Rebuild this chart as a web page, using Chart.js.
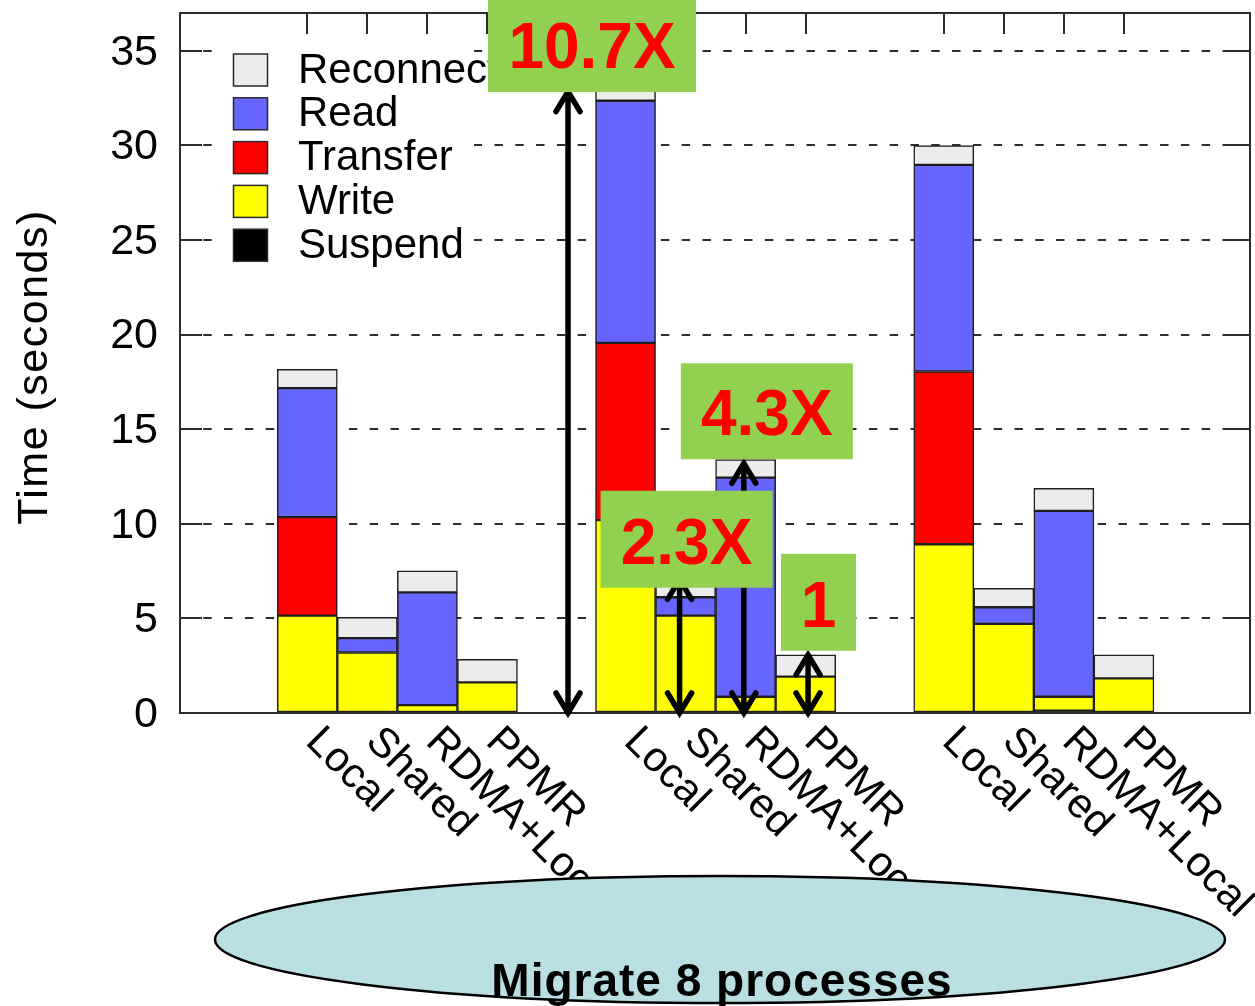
<!DOCTYPE html>
<html>
<head>
<meta charset="utf-8">
<script src="https://cdn.jsdelivr.net/npm/chart.js@4.4.1/dist/chart.umd.min.js"></script>
<style>
  html, body { margin: 0; padding: 0; background: #ffffff; overflow: hidden; }
  #wrap { width: 1255px; height: 1006px; position: relative; }
</style>
</head>
<body>
<div id="wrap"><canvas id="c" width="1255" height="1006"></canvas></div>
<script>
// Migration methods, repeated in three clusters of bars
const methods = ['Local', 'Shared', 'RDMA+Local', 'PPMR'];
const clusterCount = 3;

// Phases, stacked bottom to top
const phases = ['Suspend', 'Write', 'Transfer', 'Read', 'Reconnect'];

// Phase times in seconds, one value per bar (cluster by cluster, in method order)
const suspendTime   = [0,    0,    0,    0,      0,     0,    0,     0,      0,     0,    0.12, 0];
const writeTime     = [5.15, 3.2,  0.42, 1.62,   10.2,  5.15, 0.86,  1.92,   8.92,  4.71, 0.74, 1.83];
const transferTime  = [5.2,  0,    0,    0,      9.36,  0,    0,     0,      9.13,  0,    0,    0];
const readTime      = [6.82, 0.76, 5.96, 0,      12.8,  0.97, 11.58, 0,      10.92, 0.88, 9.82, 0];
const reconnectTime = [1.0,  1.1,  1.13, 1.22,   0.6,   1.0,  0.95,  1.15,   1.02,  1.0,  1.2,  1.24];

// Y axis tick values
const yTicks = [0, 5, 10, 15, 20, 25, 30, 35];
const yTitle = 'Time (seconds)';

// Speedup callouts on the middle cluster, relative to PPMR
const speedupCluster = 1;
const speedupLabels = ['10.7X', '2.3X', '4.3X', '1'];
const speedupRatios = [10.7, 2.3, 4.3, 1];

const footnote = 'Migrate 8 processes';

// ---- layout constants (axis units: one bar = one unit) ----
const FIRST_BAR = 2.12, CLUSTER_STEP = 5.3, X_MAX = 17.82, Y_MAX = 37;
const FONT = '"Liberation Sans", Arial, Helvetica, sans-serif';

const phaseColors = {
  Suspend: '#000000', Write: '#ffff00', Transfer: '#ff0000', Read: '#6666ff', Reconnect: '#ececec'
};
const phaseSeries = [suspendTime, writeTime, transferTime, readTime, reconnectTime];

function barPos(i) {
  const g = Math.floor(i / methods.length), m = i % methods.length;
  return FIRST_BAR + g * CLUSTER_STEP + m;
}
const barPositions = phaseSeries[0].map((_, i) => barPos(i));

const datasets = phases.map((p, k) => ({
  label: p,
  data: phaseSeries[k].map((v, i) => ({ x: barPositions[i], y: v > 0 ? v : null })),
  backgroundColor: phaseColors[p],
  borderColor: '#1e1e1e',
  borderWidth: 1.5,
  borderSkipped: false,
  barPercentage: 1,
  categoryPercentage: 1,
  stack: 'all'
}));

// callout geometry: arrow offset (bar units), box left offset from arrow (px), box size, box bottom (seconds)
const calloutLayout = [
  { arrowDx: -0.958, boxDx: -80, boxW: 208, boxH: 97, boxBottom: 32.82 },
  { arrowDx: -0.10,  boxDx: -79, boxW: 172, boxH: 97, boxBottom: 6.62 },
  { arrowDx: -0.03,  boxDx: -63, boxW: 172, boxH: 96, boxBottom: 13.41 },
  { arrowDx: 0.04,   boxDx: -27, boxW: 75,  boxH: 97, boxBottom: 3.29 }
];

function drawArrow(ctx, x, yBottom, yTop) {
  const hw = 12, hl = 20;
  ctx.beginPath();
  ctx.moveTo(x, yBottom);
  ctx.lineTo(x, yTop);
  ctx.moveTo(x - hw, yTop + hl); ctx.lineTo(x, yTop); ctx.lineTo(x + hw, yTop + hl);
  ctx.moveTo(x - hw, yBottom - hl); ctx.lineTo(x, yBottom); ctx.lineTo(x + hw, yBottom - hl);
  ctx.stroke();
}

const decorations = {
  id: 'decorations',
  afterDatasetsDraw(chart) {
    const { ctx, chartArea: a, scales: { x, y } } = chart;
    ctx.save();

    // legend panel
    ctx.fillStyle = '#ffffff';
    ctx.fillRect(214, 36, 260, 242);
    const legendOrder = phases.slice().reverse();
    ctx.font = '42px ' + FONT;
    ctx.textAlign = 'left';
    ctx.textBaseline = 'middle';
    legendOrder.forEach((p, i) => {
      const top = 54 + i * 43.8;
      ctx.fillStyle = phaseColors[p];
      ctx.fillRect(233.5, top, 34, 32);
      ctx.strokeStyle = '#2a2a2a';
      ctx.lineWidth = 1.5;
      ctx.strokeRect(233.5, top, 34, 32);
      ctx.fillStyle = '#000000';
      ctx.fillText(p, 298, top + 17);
    });

    // frame and inward ticks
    ctx.strokeStyle = '#2a2a2a';
    ctx.lineWidth = 2;
    ctx.strokeRect(a.left, a.top, a.right - a.left, a.bottom - a.top);
    ctx.beginPath();
    yTicks.forEach(v => {
      const py = Math.round(y.getPixelForValue(v));
      ctx.moveTo(a.left, py); ctx.lineTo(a.left + 22, py);
      ctx.moveTo(a.right - 24, py); ctx.lineTo(a.right, py);
    });
    barPositions.forEach(v => {
      const px = Math.round(x.getPixelForValue(v));
      ctx.moveTo(px, a.top); ctx.lineTo(px, a.top + 21);
    });
    ctx.stroke();

    // y tick labels
    ctx.fillStyle = '#000000';
    ctx.font = '43px ' + FONT;
    ctx.textAlign = 'right';
    ctx.textBaseline = 'middle';
    yTicks.forEach(v => ctx.fillText(String(v), 158, y.getPixelForValue(v) + 2));

    // y axis title
    ctx.save();
    ctx.font = '43px ' + FONT;
    ctx.letterSpacing = '1.5px';
    ctx.translate(47, (a.top + a.bottom) / 2 + 4);
    ctx.rotate(-Math.PI / 2);
    ctx.textAlign = 'center';
    ctx.textBaseline = 'alphabetic';
    ctx.fillText(yTitle, 0, 0);
    ctx.restore();

    // rotated category labels
    ctx.font = '42px ' + FONT;
    ctx.textAlign = 'left';
    ctx.textBaseline = 'alphabetic';
    barPositions.forEach((v, i) => {
      const px = x.getPixelForValue(v);
      ctx.save();
      ctx.translate(px - 3, a.bottom + 30);
      ctx.rotate(Math.PI / 4);
      ctx.fillText(methods[i % methods.length], 0, 0);
      ctx.restore();
    });

    // speedup arrows and callout boxes
    const base = speedupCluster * methods.length;
    const ppmrTotal = phaseSeries.reduce((s, arr) => s + arr[base + 3], 0);
    ctx.strokeStyle = '#000000';
    ctx.lineWidth = 5.5;
    ctx.lineCap = 'round';
    ctx.lineJoin = 'miter';
    const arrowXs = calloutLayout.map((c, m) => x.getPixelForValue(barPositions[base + m] + c.arrowDx));
    calloutLayout.forEach((c, m) => {
      drawArrow(ctx, arrowXs[m], y.getPixelForValue(0), y.getPixelForValue(speedupRatios[m] * ppmrTotal));
    });
    ctx.font = 'bold 64px ' + FONT;
    ctx.textAlign = 'center';
    ctx.textBaseline = 'alphabetic';
    calloutLayout.forEach((c, m) => {
      const bottom = y.getPixelForValue(c.boxBottom);
      const left = arrowXs[m] + c.boxDx;
      ctx.fillStyle = '#92d050';
      ctx.fillRect(left, bottom - c.boxH, c.boxW, c.boxH);
      ctx.fillStyle = '#ff0000';
      ctx.fillText(speedupLabels[m], left + c.boxW / 2, bottom - 24);
    });

    // footnote ellipse
    ctx.beginPath();
    ctx.ellipse(720, 939.5, 505, 63.5, 0, 0, Math.PI * 2);
    ctx.fillStyle = '#b9dfe3';
    ctx.fill();
    ctx.strokeStyle = '#000000';
    ctx.lineWidth = 2.5;
    ctx.stroke();
    ctx.fillStyle = '#000000';
    ctx.font = 'bold 46px ' + FONT;
    ctx.letterSpacing = '1px';
    ctx.textAlign = 'center';
    ctx.fillText(footnote, 722, 996);

    ctx.restore();
  }
};

new Chart(document.getElementById('c'), {
  type: 'bar',
  data: { datasets },
  options: {
    responsive: false,
    animation: false,
    devicePixelRatio: 1,
    layout: { padding: { left: 180, top: 13, right: 5, bottom: 293 } },
    plugins: { legend: { display: false }, tooltip: { enabled: false } },
    scales: {
      x: {
        type: 'linear',
        stacked: true,
        offset: false,
        min: 0,
        max: X_MAX,
        afterBuildTicks: s => { s.ticks = barPositions.map(v => ({ value: v })); },
        ticks: { display: false },
        grid: { display: false, drawTicks: false },
        border: { display: false }
      },
      y: {
        stacked: true,
        min: 0,
        max: Y_MAX,
        afterBuildTicks: s => { s.ticks = yTicks.map(v => ({ value: v })); },
        ticks: { display: false },
        grid: { color: '#2e2e2e', lineWidth: 2, drawTicks: false },
        border: { display: false, dash: [8.4, 12.4], dashOffset: -2.5 }
      }
    }
  },
  plugins: [decorations]
});
</script>
</body>
</html>
